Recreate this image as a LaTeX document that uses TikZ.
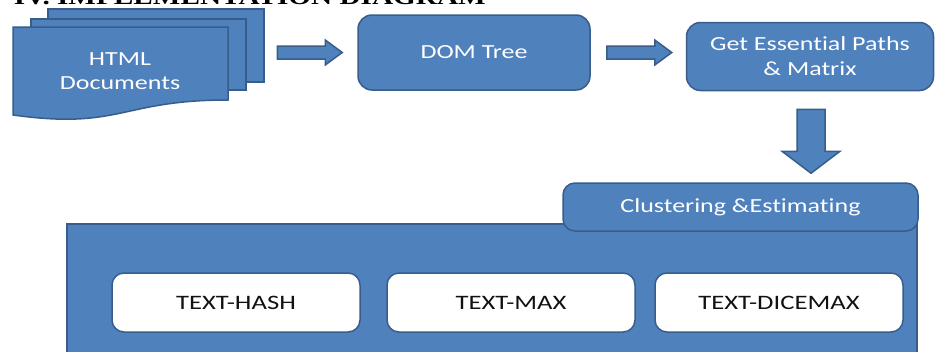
\documentclass[tikz,border=0pt]{standalone}
\usepackage{fontspec}
\setmainfont{Carlito}[FakeStretch=1.3, Ligatures=NoCommon]
\newfontfamily\headfont{Liberation Serif}[FakeStretch=1.3]
\usetikzlibrary{calc}
\usetikzlibrary{positioning}

\definecolor{boxblue}{HTML}{4F81BD}
\definecolor{boxline}{HTML}{385D8A}
\definecolor{inktext}{HTML}{111111}

\begin{document}
\begin{tikzpicture}[x=1pt, y=-1pt, line width=1.5pt,
        bluebox/.style={draw=boxline, fill=boxblue, rounded corners=14pt, text=white, align=center, font=\fontsize{20}{25}\selectfont},
        whitebox/.style={draw=boxline, fill=white, rounded corners=12pt, text=inktext, minimum width=248pt, minimum height=59pt, font=\fontsize{20.5}{25}\selectfont},
        sheet/.style={draw=boxline, fill=boxblue},
        pics/blockarrow/.style n args={4}{code={
            \draw[draw=boxline, fill=boxblue] (0,-#2) -- ({#1-#4},-#2) -- ({#1-#4},-#3) -- (#1,0) -- ({#1-#4},#3) -- ({#1-#4},#2) -- (0,#2) -- cycle;}}]
        \clip (0,0) rectangle (935,351);

        % heading, cut at the top
        \node (title) [anchor=base west, inner sep=0pt, font=\headfont\bfseries\fontsize{22.5}{27}\selectfont] at (13,4) {IV. IMPLEMENTATION DIAGRAM};

        % html documents
        \node (docs3) [sheet, anchor=north west, minimum width=216pt, minimum height=73pt, inner sep=0pt] at (47,8) {};
        \node (docs2) [sheet, anchor=north west, minimum width=215pt, minimum height=71pt, inner sep=0pt] at (30,18) {};
        \draw[sheet] (13,27) -- (228,27) -- (228,100) .. controls (120.5,100) and (120.5,130) .. (13,115) -- cycle;
        \node (docs) [text=white, align=center, font=\fontsize{20}{24}\selectfont] at (120,71.5) {HTML\\Documents};

        % steps
        \node (dom) [bluebox, minimum width=232pt, minimum height=75pt] at (474,52.5) {DOM Tree};
        \node (paths) [bluebox, minimum width=247pt, minimum height=68pt] at (810,56.5) {Get Essential Paths\\\& Matrix};

        % clustering panel
        \node (panel) [sheet, anchor=north west, minimum width=850pt, minimum height=140pt] at (66,223) {};
        \node (tab) [bluebox, rounded corners=12pt, minimum width=355pt, minimum height=48pt] at (740.5,207) {Clustering \&Estimating};
        \node (hash) [whitebox] at (236,302.5) {TEXT-HASH};
        \node (max) [whitebox] at (511,302.5) {TEXT-MAX};
        \node (dicemax) [whitebox] at (779,302.5) {TEXT-DICEMAX};

        % arrows
        \pic at ($(dom.west)+(-80,0)$) {blockarrow={65}{6.5}{12.5}{17}};
        \pic at ($(dom.east)+(16,0)$) {blockarrow={65}{6.5}{12.5}{17}};
        \pic[rotate=-90] at ($(paths.south)+(1,18)$) {blockarrow={64}{14}{29}{22}};
    \end{tikzpicture}
\end{document}
